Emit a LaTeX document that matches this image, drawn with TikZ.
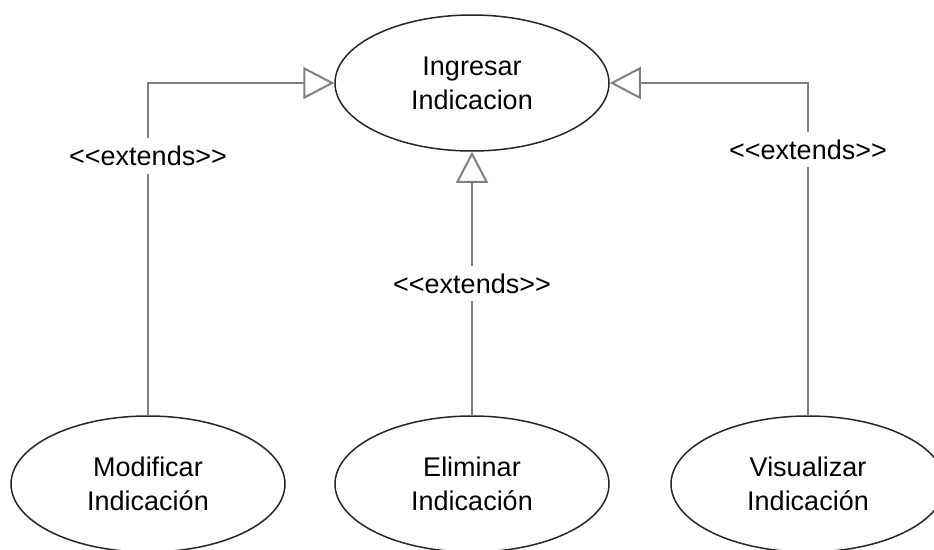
\documentclass[tikz,border=0pt]{standalone}
\usepackage{fontspec}
\setmainfont{Liberation Sans}
\usetikzlibrary{positioning, arrows.meta, shapes.geometric}
\newcommand{\extlabel}{<\kern0pt<extends>\kern0pt>}

\begin{document}
\begin{tikzpicture}[x=1pt, y=-1pt,
        usecase/.style={draw=black!85, ellipse, line width=1.5pt, minimum width=274pt, minimum height=136pt, inner sep=0pt, align=center, font=\fontsize{27}{34}\selectfont},
        ext/.style={draw=black!50, line width=2pt, -{Triangle[open, length=31pt, width=32pt]}},
        stereo/.style={fill=white, inner xsep=3pt, inner ysep=8pt, font=\fontsize{27}{33}\selectfont}]
                \useasboundingbox (0,0) rectangle (934,549);
                \node [usecase] (ingresar) at (472,83) {Ingresar\\Indicacion};
                \node [usecase] (modificar) at (148,484) {Modificar\\Indicación};
                \node [usecase] (eliminar) at (472,484) {Eliminar\\Indicación};
                \node [usecase] (visualizar) at (808,484) {Visualizar\\Indicación};
                \draw [ext] (modificar) |- node[stereo, pos=0.39] {\extlabel} (ingresar);
                \draw [ext] (eliminar) -- node[stereo] {\extlabel} (ingresar);
                \draw [ext] (visualizar) |- node[stereo, pos=0.4] {\extlabel} (ingresar);
            \end{tikzpicture}
\end{document}
